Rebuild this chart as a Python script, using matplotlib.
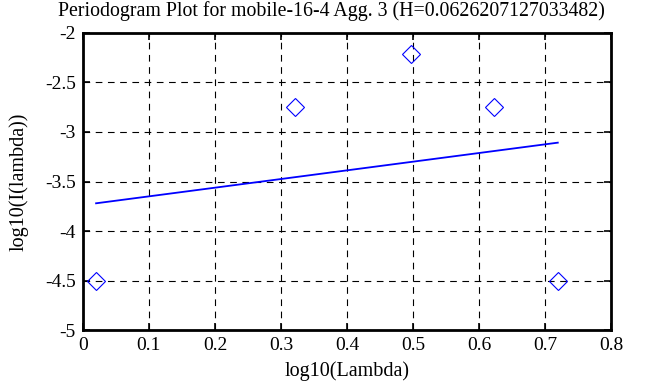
import matplotlib
matplotlib.use('Agg')
import matplotlib.pyplot as plt

# Periodogram points (log10 of frequency vs log10 of periodogram)
log_lambda = [0.020, 0.321, 0.497, 0.622, 0.719]
log_I = [-4.50, -2.75, -2.21, -2.75, -4.50]

# Fitted line endpoints (slope = 1 - 2H)
fit_x = [0.020, 0.719]
fit_y = [-3.72, -3.108]

title = 'Periodogram Plot for mobile-16-4 Agg. 3 (H=0.0626207127033482)'

plt.rcParams['font.family'] = ['Liberation Serif', 'DejaVu Serif']

fig = plt.figure(figsize=(6.63, 3.87), dpi=100)
ax = fig.add_axes([0.125, 0.147, 0.797, 0.768])

ax.plot(log_lambda, log_I, linestyle='none', marker='D', markersize=9,
        markerfacecolor='none', markeredgecolor='blue', markeredgewidth=0.8)
ax.plot(fit_x, fit_y, color='blue', linewidth=1.3)

ax.set_xlim(0, 0.8)
ax.set_ylim(-5, -2)
ax.set_xticks([0, 0.1, 0.2, 0.3, 0.4, 0.5, 0.6, 0.7, 0.8])
ax.set_xticklabels(['0', '0.1', '0.2', '0.3', '0.4', '0.5', '0.6', '0.7', '0.8'])
ax.set_yticks([-5, -4.5, -4, -3.5, -3, -2.5, -2])
ax.set_yticklabels(['-5', '-4.5', '-4', '-3.5', '-3', '-2.5', '-2'])

ax.grid(True, color='black', linestyle=(0, (6, 5)), linewidth=0.8)
ax.tick_params(direction='in', length=5, width=1.2, labelsize=14,
               top=True, right=True, pad=5)
for s in ax.spines.values():
    s.set_linewidth(2)

# title centred on the figure, like the reference
fig.text(0.5, 0.972, title, fontsize=14.3, ha='center', va='center')
ax.set_xlabel('log10(Lambda)', fontsize=14.5, labelpad=5)
ax.set_ylabel('log10(I(lambda))', fontsize=14.5, labelpad=12)

plt.savefig('out.png', dpi=100)
